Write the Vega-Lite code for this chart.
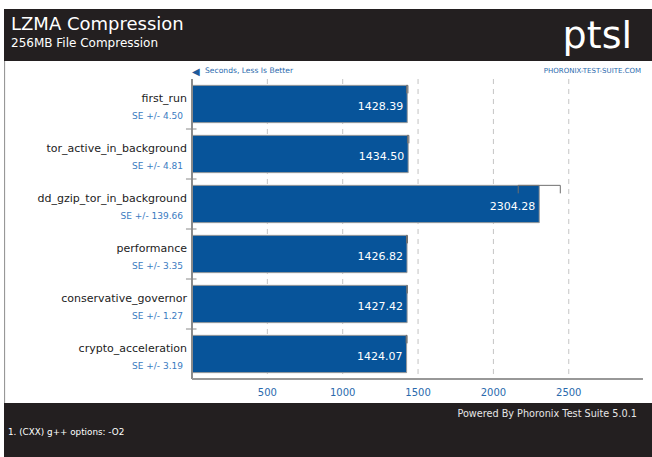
{
  "$schema": "https://vega.github.io/schema/vega-lite/v6.json",
  "background": "#ffffff",
  "padding": {"left": 4, "top": 9, "right": 0, "bottom": 0},
  "config": {"font": "DejaVu Sans", "view": {"stroke": null}},
  "spacing": 0,
  "bounds": "flush",
  "vconcat": [
    {
      "width": 648,
      "height": 52,
      "view": {"fill": "#231f20", "stroke": null},
      "title": {
        "text": "LZMA Compression",
        "subtitle": "256MB File Compression",
        "anchor": "start",
        "frame": "group",
        "offset": -40,
        "dx": 7,
        "color": "#ffffff",
        "subtitleColor": "#ffffff",
        "fontSize": 18,
        "fontWeight": "normal",
        "subtitleFontSize": 12,
        "subtitlePadding": 4,
        "font": "DejaVu Sans",
        "subtitleFont": "DejaVu Sans"
      },
      "data": {"values": [{"brand": "ptsl"}]},
      "mark": {"type": "text", "align": "right", "baseline": "alphabetic", "x": "width", "y": "height", "dx": -20, "dy": -13, "fontSize": 38, "color": "#ffffff"},
      "encoding": {"text": {"field": "brand"}}
    },
    {
      "width": 648,
      "height": 342,
      "view": {"fill": "#ffffff", "stroke": null},
      "data": {
        "values": [
          {"name": "first_run", "value": 1428.39, "se": 4.50},
          {"name": "tor_active_in_background", "value": 1434.50, "se": 4.81},
          {"name": "dd_gzip_tor_in_background", "value": 2304.28, "se": 139.66},
          {"name": "performance", "value": 1426.82, "se": 3.35},
          {"name": "conservative_governor", "value": 1427.42, "se": 1.27},
          {"name": "crypto_acceleration", "value": 1424.07, "se": 3.19}
        ]
      },
      "layer": [
        {
          "data": {"name": "ticks", "values": [{"tick": 500}, {"tick": 1000}, {"tick": 1500}, {"tick": 2000}, {"tick": 2500}]},
          "mark": {"type": "rule", "color": "#c4c4c4", "strokeDash": [5, 5], "strokeWidth": 1},
          "encoding": {
            "x": {"field": "tick", "type": "quantitative", "axis": null},
            "y": {"datum": "first_run", "bandPosition": 0, "axis": null},
            "y2": {"datum": "crypto_acceleration", "bandPosition": 1}
          }
        },
        {
          "mark": {"type": "bar", "height": {"band": 0.746}, "fill": "#07549a", "stroke": "#9a9a9a", "strokeWidth": 1},
          "encoding": {
            "x": {
              "field": "value",
              "type": "quantitative",
              "scale": {"domain": [-1247.5, 3052.4], "nice": false},
              "axis": null
            },
            "x2": {"datum": 0},
            "y": {
              "field": "name",
              "type": "nominal",
              "sort": null,
              "scale": {
                "domain": ["first_run", "tor_active_in_background", "dd_gzip_tor_in_background", "performance", "conservative_governor", "crypto_acceleration"],
                "paddingInner": 0,
                "paddingOuter": 0.42,
                "align": 0.4286
              },
              "axis": null
            }
          }
        },
        {
          "mark": {"type": "rule", "color": "#999999", "strokeWidth": 1},
          "encoding": {
            "x": {"datum": -1244, "axis": null}
          }
        },
        {
          "mark": {"type": "rule", "color": "#8a8a8a", "strokeWidth": 1},
          "encoding": {
            "x": {"datum": 0, "axis": null},
            "y": {"datum": "first_run", "bandPosition": 0, "axis": null},
            "y2": {"datum": "crypto_acceleration", "bandPosition": 1}
          }
        },
        {
          "transform": [{"filter": "datum.name != 'first_run'"}],
          "mark": {"type": "rule", "color": "#8a8a8a", "strokeWidth": 1},
          "encoding": {
            "x": {"datum": -40, "axis": null},
            "x2": {"datum": 30},
            "y": {"field": "name", "type": "nominal", "bandPosition": 0, "axis": null}
          }
        },
        {
          "mark": {"type": "rule", "color": "#999999", "strokeWidth": 1.6},
          "encoding": {
            "x": {"datum": 0, "axis": null},
            "x2": {"datum": 2990},
            "y": {"datum": "crypto_acceleration", "bandPosition": 1, "axis": null}
          }
        },
        {
          "data": {"name": "ticks"},
          "mark": {"type": "text", "align": "center", "baseline": "alphabetic", "dy": 17, "fontSize": 10, "color": "#2a6aad"},
          "encoding": {
            "x": {"field": "tick", "type": "quantitative", "axis": null},
            "y": {"datum": "crypto_acceleration", "bandPosition": 1, "axis": null},
            "text": {"field": "tick", "type": "quantitative", "format": "d"}
          }
        },
        {
          "transform": [
            {"calculate": "datum.value - datum.se", "as": "se_low"},
            {"calculate": "datum.value + datum.se", "as": "se_high"}
          ],
          "layer": [
            {
              "mark": {"type": "rule", "color": "#6f6f6f", "strokeWidth": 1},
              "encoding": {
                "x": {"field": "se_low", "type": "quantitative", "axis": null},
                "x2": {"field": "se_high"},
                "y": {"field": "name", "type": "nominal", "bandPosition": 0.127, "axis": null}
              }
            },
            {
              "mark": {"type": "rule", "color": "#6f6f6f", "strokeWidth": 1},
              "encoding": {
                "x": {"field": "se_low", "type": "quantitative", "axis": null},
                "y": {"field": "name", "type": "nominal", "bandPosition": 0.127, "axis": null},
                "y2": {"field": "name", "bandPosition": 0.287}
              }
            },
            {
              "mark": {"type": "rule", "color": "#6f6f6f", "strokeWidth": 1},
              "encoding": {
                "x": {"field": "se_high", "type": "quantitative", "axis": null},
                "y": {"field": "name", "type": "nominal", "bandPosition": 0.127, "axis": null},
                "y2": {"field": "name", "bandPosition": 0.287}
              }
            }
          ]
        },
        {
          "mark": {"type": "text", "align": "right", "baseline": "alphabetic", "dx": -4, "dy": 6, "fontSize": 11, "color": "#ffffff"},
          "encoding": {
            "x": {"field": "value", "type": "quantitative", "axis": null},
            "y": {"field": "name", "type": "nominal", "axis": null},
            "text": {"field": "value", "type": "quantitative", "format": ".2f"}
          }
        },
        {
          "mark": {"type": "text", "align": "right", "baseline": "alphabetic", "dx": -5, "dy": -2.5, "fontSize": 11, "color": "#222222"},
          "encoding": {
            "x": {"datum": 0, "axis": null},
            "y": {"field": "name", "type": "nominal", "axis": null},
            "text": {"field": "name"}
          }
        },
        {
          "transform": [{"calculate": "'SE +/- ' + format(datum.se, '.2f')", "as": "se_label"}],
          "mark": {"type": "text", "align": "right", "baseline": "alphabetic", "dx": -9, "dy": 15, "fontSize": 9, "color": "#3a7bbf"},
          "encoding": {
            "x": {"datum": 0, "axis": null},
            "y": {"field": "name", "type": "nominal", "axis": null},
            "text": {"field": "se_label"}
          }
        },
        {
          "data": {"values": [{"glyph": "◀"}]},
          "mark": {"type": "text", "align": "left", "baseline": "alphabetic", "dx": 0, "dy": -4.5, "fontSize": 10, "color": "#1f5a9a"},
          "encoding": {
            "x": {"datum": 0, "axis": null},
            "y": {"datum": "first_run", "bandPosition": 0, "axis": null},
            "text": {"field": "glyph"}
          }
        },
        {
          "data": {"values": [{"note": "Seconds, Less Is Better"}]},
          "mark": {"type": "text", "align": "left", "baseline": "alphabetic", "dx": 13, "dy": -6.5, "fontSize": 7.6, "color": "#2a6aad"},
          "encoding": {
            "x": {"datum": 0, "axis": null},
            "y": {"datum": "first_run", "bandPosition": 0, "axis": null},
            "text": {"field": "note"}
          }
        },
        {
          "data": {"values": [{"site": "PHORONIX-TEST-SUITE.COM"}]},
          "mark": {"type": "text", "align": "right", "baseline": "alphabetic", "dx": -1.5, "dy": -6.5, "fontSize": 7, "color": "#2a6aad"},
          "encoding": {
            "x": {"datum": 2990, "axis": null},
            "y": {"datum": "first_run", "bandPosition": 0, "axis": null},
            "text": {"field": "site"}
          }
        }
      ]
    },
    {
      "width": 648,
      "height": 54,
      "view": {"fill": "#231f20", "stroke": null},
      "title": {
        "text": "1. (CXX) g++ options: -O2",
        "orient": "bottom",
        "anchor": "start",
        "frame": "group",
        "offset": -29,
        "dx": 4,
        "color": "#ffffff",
        "fontSize": 8.8,
        "fontWeight": "normal",
        "font": "DejaVu Sans"
      },
      "data": {"values": [{"credit": "Powered By Phoronix Test Suite 5.0.1"}]},
      "mark": {"type": "text", "align": "right", "baseline": "alphabetic", "x": "width", "y": 0, "dx": -15, "dy": 13.7, "fontSize": 9.7, "color": "#e6e6e6"},
      "encoding": {"text": {"field": "credit"}}
    }
  ]
}
